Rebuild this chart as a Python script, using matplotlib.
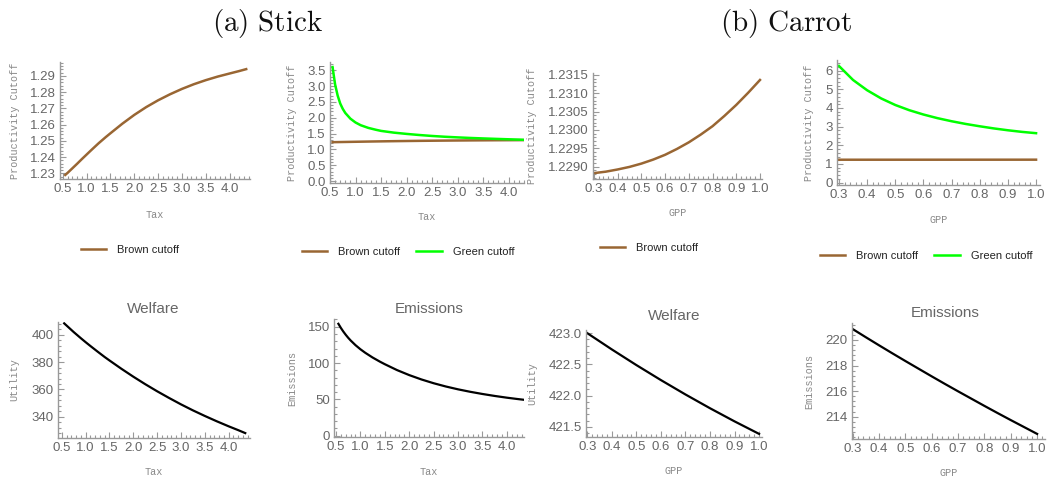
import matplotlib
matplotlib.use("Agg")
import matplotlib.pyplot as plt
from matplotlib.ticker import AutoMinorLocator, MultipleLocator, FormatStrFormatter

# --- data ---
tax = [0.55, 0.6, 0.65, 0.7, 0.75, 0.8, 0.9, 1.0, 1.1, 1.25, 1.4, 1.5, 1.75, 2.0,
       2.25, 2.5, 2.75, 3.0, 3.25, 3.5, 3.75, 4.0, 4.2, 4.35]
stick_brown = [1.2290, 1.2303, 1.2317, 1.2331, 1.2345, 1.2359, 1.2388, 1.2416, 1.2444,
               1.2485, 1.2523, 1.2547, 1.2606, 1.2660, 1.2708, 1.2750, 1.2787, 1.2820,
               1.2849, 1.2874, 1.2896, 1.2915, 1.2930, 1.2942]
stick_green = [3.60, 3.05, 2.70, 2.45, 2.28, 2.15, 1.97, 1.85, 1.765, 1.68, 1.62, 1.585,
               1.53, 1.49, 1.455, 1.425, 1.40, 1.38, 1.362, 1.347, 1.333, 1.32, 1.31, 1.30]
stick_welfare = [408.5, 406.9, 405.3, 403.7, 402.1, 400.6, 397.6, 394.7, 391.9, 387.8,
                 383.8, 381.3, 375.2, 369.4, 363.9, 358.7, 353.8, 349.1, 344.7, 340.6,
                 336.7, 333.0, 330.2, 328.0]
stick_emis = [154.0, 148.4, 143.4, 138.9, 134.8, 131.1, 124.6, 119.0, 114.1, 107.6,
              101.9, 98.4, 90.3, 83.4, 77.4, 72.2, 67.7, 63.8, 60.4, 57.4, 54.7, 52.3,
              50.6, 49.4]

gpp = [0.3, 0.35, 0.4, 0.45, 0.5, 0.55, 0.6, 0.65, 0.7, 0.75, 0.8, 0.85, 0.9, 0.95, 1.0]
carrot_brown = [1.22882, 1.22886, 1.22892, 1.22899, 1.22908, 1.22919, 1.22932, 1.22948,
                1.22966, 1.22987, 1.23010, 1.23038, 1.23068, 1.23101, 1.23136]
carrot_green = [6.25, 5.50, 4.95, 4.51, 4.16, 3.88, 3.65, 3.455, 3.29, 3.145, 3.02,
                2.905, 2.806, 2.72, 2.65]
carrot_welfare = [423.0, 422.87, 422.74, 422.615, 422.49, 422.37, 422.25, 422.135,
                  422.02, 421.91, 421.80, 421.695, 421.59, 421.49, 421.39]
carrot_emis = [220.85, 220.21, 219.58, 218.96, 218.35, 217.75, 217.15, 216.56, 215.98,
               215.41, 214.84, 214.28, 213.73, 213.19, 212.65]

BROWN = "#996633"
GREEN = "#00ff00"
GRAY = "#999999"
W, H = 1048, 479

plt.rcParams["mathtext.fontset"] = "cm"
fig = plt.figure(figsize=(W / 100, H / 100), dpi=100)


def make_ax(l, r, t, b, xlim, ylim, xstep, ystep, xlabel, ylabel, ylab_x, xlab_y, fmt):
    ax = fig.add_axes([l / W, 1 - b / H, (r - l) / W, (b - t) / H])
    ax.set_xlim(xlim)
    ax.set_ylim(ylim)
    for s in ("top", "right"):
        ax.spines[s].set_visible(False)
    for s in ("left", "bottom"):
        ax.spines[s].set_color(GRAY)
        ax.spines[s].set_linewidth(1.0)
    ax.xaxis.set_major_locator(MultipleLocator(xstep))
    ax.yaxis.set_major_locator(MultipleLocator(ystep))
    ax.xaxis.set_minor_locator(AutoMinorLocator(5))
    ax.yaxis.set_minor_locator(AutoMinorLocator(5))
    ax.xaxis.set_major_formatter(FormatStrFormatter("%.1f"))
    ax.yaxis.set_major_formatter(FormatStrFormatter(fmt))
    ax.tick_params(which="both", direction="in", color=GRAY, width=0.8)
    ax.tick_params(which="major", length=4, labelsize=9.5, labelcolor="#666666", pad=3)
    ax.tick_params(which="minor", length=2)
    for lab in ax.get_xticklabels() + ax.get_yticklabels():
        lab.set_family("Liberation Sans")
    ax.set_xlabel(xlabel, family="Liberation Mono", fontsize=7.3, color="#888888", va="center")
    ax.set_ylabel(ylabel, family="Liberation Mono", fontsize=7.3, color="#888888", va="center")
    ax.yaxis.set_label_coords((ylab_x - l) / (r - l), 0.5)
    ax.xaxis.set_label_coords(0.5, (b - xlab_y) / (b - t))
    ax.patch.set_alpha(0)
    return ax


def legend(ax, cx, cy, ncol):
    leg = ax.legend(loc="center", bbox_to_anchor=(cx / W, 1 - cy / H),
                    bbox_transform=fig.transFigure, ncol=ncol, frameon=False,
                    prop={"family": "Liberation Sans", "size": 8},
                    handlelength=2.3, handletextpad=1.0, columnspacing=1.4)
    for t in leg.get_texts():
        t.set_color("#222222")


def title(text, cx, cy):
    fig.text(cx / W, 1 - cy / H, text, ha="center", va="center",
             family="Liberation Sans", fontsize=11, color="#666666")


# (a) Stick, cutoffs
ax1 = make_ax(60, 250, 62, 179, (0.44, 4.43), (1.2265, 1.2986), 0.5, 0.01,
              "Tax", "Productivity Cutoff", 15, 215, "%.2f")
ax1.plot(tax, stick_brown, color=BROWN, lw=1.8, label="Brown cutoff")
legend(ax1, 130, 250, 1)

ax2 = make_ax(330, 524, 62, 183, (0.5, 4.3), (-0.06, 3.76), 0.5, 0.5,
              "Tax", "Productivity Cutoff", 292, 217, "%.1f")
ax2.plot(tax, stick_brown, color=BROWN, lw=1.8, label="Brown cutoff")
ax2.plot(tax, stick_green, color=GREEN, lw=1.8, label="Green cutoff")
legend(ax2, 408, 252, 2)

# (b) Carrot, cutoffs
ax3 = make_ax(593, 762, 73, 179, (0.296, 1.0085), (1.22866, 1.23155), 0.1, 0.0005,
              "GPP", "Productivity Cutoff", 532, 213, "%.4f")
ax3.plot(gpp, carrot_brown, color=BROWN, lw=1.8, label="Brown cutoff")
legend(ax3, 649, 248, 1)

ax4 = make_ax(837, 1040, 60, 185, (0.293, 1.014), (-0.125, 6.57), 0.1, 1,
              "GPP", "Productivity Cutoff", 809, 220, "%d")
ax4.plot(gpp, carrot_brown, color=BROWN, lw=1.8, label="Brown cutoff")
ax4.plot(gpp, carrot_green, color=GREEN, lw=1.8, label="Green cutoff")
legend(ax4, 926, 256, 2)

# welfare / emissions
ax5 = make_ax(58, 250, 322, 438, (0.42, 4.45), (324.4, 409.5), 0.5, 20,
              "Tax", "Utility", 14, 472, "%d")
ax5.plot(tax, stick_welfare, color="black", lw=1.6)
title("Welfare", 153, 309)

ax6 = make_ax(334, 524, 319, 437, (0.46, 4.35), (-1.8, 160.6), 0.5, 50,
              "Tax", "Emissions", 292, 472, "%d")
ax6.plot(tax, stick_emis, color="black", lw=1.6)
title("Emissions", 429, 309)

ax7 = make_ax(586, 762, 330, 437, (0.295, 1.012), (421.34, 423.05), 0.1, 0.5,
              "GPP", "Utility", 532, 471, "%.1f")
ax7.plot(gpp, carrot_welfare, color="black", lw=1.6)
title("Welfare", 674, 316)

ax8 = make_ax(852, 1045, 323, 439, (0.297, 1.03), (212.25, 221.33), 0.1, 2,
              "GPP", "Emissions", 809, 473, "%d")
ax8.plot(gpp, carrot_emis, color="black", lw=1.6)
title("Emissions", 945, 313)

fig.text(268 / W, 1 - 24 / H, r"$\mathrm{(a)\ Stick}$", ha="center", va="center",
         fontsize=21, color="#111111")
fig.text(786 / W, 1 - 24 / H, r"$\mathrm{(b)\ Carrot}$", ha="center", va="center",
         fontsize=21, color="#111111")

fig.savefig("out.png", dpi=100)
